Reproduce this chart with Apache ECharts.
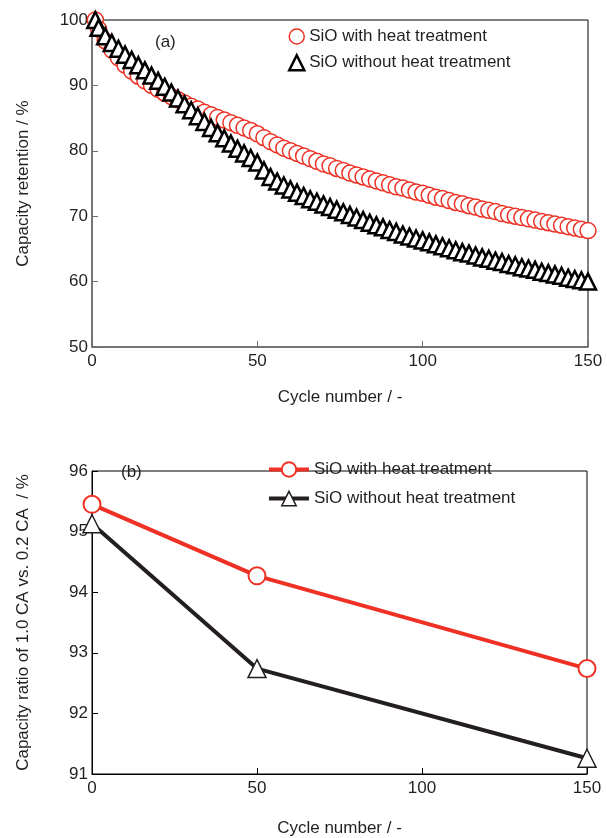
<!DOCTYPE html>
<html>
<head>
<meta charset="utf-8">
<script src="https://cdn.jsdelivr.net/npm/echarts@6/dist/echarts.min.js"></script>
<style>
  html, body { margin: 0; padding: 0; background: #fff; }
  #main { width: 607px; height: 838px; }
</style>
</head>
<body>
<div id="main"></div>
<script>
// (a) cycle data
var cycles = [1, 2, 4, 6, 8, 10, 12, 14, 16, 18, 20, 22, 24, 26, 28, 30, 32, 34, 36, 38, 40,
  42, 44, 46, 48, 50, 52, 54, 56, 58, 60, 62, 64, 66, 68, 70, 72, 74, 76, 78, 80,
  82, 84, 86, 88, 90, 92, 94, 96, 98, 100, 102, 104, 106, 108, 110, 112, 114, 116, 118, 120,
  122, 124, 126, 128, 130, 132, 134, 136, 138, 140, 142, 144, 146, 148, 150];
var withHeat = [100.0, 98.6, 96.8, 95.4, 94.2, 93.1, 92.2, 91.4, 90.7, 90.0, 89.4,
  88.8, 88.3, 87.8, 87.3, 86.8, 86.4, 85.9, 85.5, 85.1, 84.7,
  84.3, 83.9, 83.5, 83.1, 82.6, 82.0, 81.4, 80.9, 80.4, 80.0,
  79.6, 79.2, 78.8, 78.4, 78.0, 77.7, 77.3, 77.0, 76.6, 76.3,
  76.0, 75.7, 75.4, 75.1, 74.8, 74.5, 74.3, 74.0, 73.7, 73.5,
  73.2, 72.9, 72.7, 72.4, 72.1, 71.9, 71.6, 71.4, 71.1, 70.9,
  70.7, 70.4, 70.2, 70.0, 69.8, 69.6, 69.4, 69.2, 69.0, 68.8,
  68.6, 68.4, 68.2, 68.0, 67.8];
var withoutHeat = [100.0, 98.8, 97.5, 96.5, 95.6, 94.7, 93.9, 93.1, 92.3, 91.5, 90.7,
  89.8, 88.9, 88.0, 87.1, 86.2, 85.3, 84.4, 83.5, 82.7, 81.9,
  81.1, 80.3, 79.6, 78.9, 78.2, 77.0, 76.0, 75.3, 74.7, 74.1,
  73.6, 73.1, 72.6, 72.2, 71.8, 71.4, 71.0, 70.6, 70.2, 69.8,
  69.4, 69.0, 68.6, 68.3, 67.9, 67.6, 67.2, 66.9, 66.6, 66.3,
  66.0, 65.7, 65.4, 65.1, 64.8, 64.5, 64.3, 64.0, 63.7, 63.5,
  63.2, 63.0, 62.7, 62.5, 62.2, 62.0, 61.8, 61.5, 61.3, 61.1,
  60.9, 60.6, 60.4, 60.2, 60.0];

// (b) rate data
var rateCycles = [0, 50, 150];
var rateWithHeat = [95.45, 94.27, 92.74];
var rateWithoutHeat = [95.13, 92.74, 91.26];

var seriesNames = ['SiO with heat treatment', 'SiO without heat treatment'];

var RED = '#ee3124';
var TXT = '#231f20';
var FONT = 'Liberation Sans, Arial, sans-serif';

function pairs(xs, ys) {
  return xs.map(function (x, i) { return [x, ys[i]]; });
}

var myChart = echarts.init(document.getElementById('main'));

function xAx(idx, gap, lineColor, lineWidth) {
  return {
    gridIndex: idx, type: 'value', min: 0, max: 150, interval: 50,
    name: 'Cycle number / -', nameLocation: 'middle', nameGap: gap,
    nameTextStyle: { fontSize: 17, color: TXT, fontFamily: FONT },
    axisLine: { lineStyle: { color: lineColor, width: lineWidth } },
    axisTick: { inside: true, length: 6, lineStyle: { color: lineColor } },
    axisLabel: { fontSize: 17, color: TXT, fontFamily: FONT, margin: 6 },
    splitLine: { show: false }
  };
}

var option = {
  animation: false,
  textStyle: { fontFamily: FONT },
  grid: [
    { left: 92, right: 19, top: 20, height: 327, show: true, borderColor: '#000', borderWidth: 1 },
    { left: 92, right: 20, top: 471, height: 304, show: true, borderColor: '#000', borderWidth: 1 }
  ],
  xAxis: [
    xAx(0, 42, '#707070', 1.5),
    xAx(1, 46, '#000', 1)
  ],
  yAxis: [
    {
      gridIndex: 0, type: 'value', min: 50, max: 100, interval: 10,
      name: 'Capacity retention / %', nameLocation: 'middle', nameGap: 60,
      nameTextStyle: { fontSize: 17, color: TXT, fontFamily: FONT },
      axisLine: { show: true, lineStyle: { color: '#707070', width: 1.5 } },
      axisTick: { show: true, inside: true, length: 6, lineStyle: { color: '#707070' } },
      axisLabel: { fontSize: 17, color: TXT, fontFamily: FONT, margin: 4 },
      splitLine: { show: false }
    },
    {
      gridIndex: 1, type: 'value', min: 91, max: 96, interval: 1,
      name: 'Capacity ratio of 1.0 CA vs. 0.2 CA  / %', nameLocation: 'middle', nameGap: 60,
      nameTextStyle: { fontSize: 17, color: TXT, fontFamily: FONT },
      axisLine: { show: true, lineStyle: { color: '#000', width: 1 } },
      axisTick: { show: true, inside: true, length: 6, lineStyle: { color: '#000' } },
      axisLabel: { fontSize: 17, color: TXT, fontFamily: FONT, margin: 4 },
      splitLine: { show: false }
    }
  ],
  legend: [
    {
      left: 283, top: 23, orient: 'vertical', itemGap: 9,
      itemWidth: 15, itemHeight: 15,
      textStyle: { fontSize: 17, color: TXT, fontFamily: FONT, padding: [0, 0, 0, 0] },
      data: [
        { name: 'a1', icon: 'circle', itemStyle: { color: '#fff', borderColor: RED, borderWidth: 1.5 } },
        { name: 'a2', icon: 'triangle', itemStyle: { color: '#fff', borderColor: '#000', borderWidth: 2.5 } }
      ],
      formatter: function (n) { return n === 'a1' ? seriesNames[0] : seriesNames[1]; }
    },
    {
      left: 262, top: 456, orient: 'vertical', itemGap: 12,
      itemWidth: 40, itemHeight: 18,
      textStyle: { fontSize: 17, color: TXT, fontFamily: FONT, padding: [0, 0, 0, 0] },
      data: [
        { name: 'b1', lineStyle: { color: RED, width: 4 }, itemStyle: { color: '#fff', borderColor: RED, borderWidth: 2 } },
        { name: 'b2', lineStyle: { color: TXT, width: 4 }, itemStyle: { color: '#fff', borderColor: TXT, borderWidth: 1.5 } }
      ],
      formatter: function (n) { return n === 'b1' ? seriesNames[0] : seriesNames[1]; }
    }
  ],
  graphic: [
    { type: 'text', left: 155, top: 34, style: { text: '(a)', fontSize: 17, fill: TXT, fontFamily: FONT } },
    { type: 'text', left: 121, top: 464, style: { text: '(b)', fontSize: 17, fill: TXT, fontFamily: FONT } }
  ],
  series: [
    {
      name: 'a1', type: 'scatter', xAxisIndex: 0, yAxisIndex: 0,
      symbol: 'circle', symbolSize: 16,
      itemStyle: { color: '#fff', borderColor: RED, borderWidth: 1.5, opacity: 1 },
      data: pairs(cycles, withHeat)
    },
    {
      name: 'a2', type: 'scatter', xAxisIndex: 0, yAxisIndex: 0,
      symbol: 'triangle', symbolSize: 16,
      itemStyle: { color: '#fff', borderColor: '#000', borderWidth: 2.5, opacity: 1 },
      data: pairs(cycles, withoutHeat)
    },
    {
      name: 'b1', type: 'line', xAxisIndex: 1, yAxisIndex: 1,
      symbol: 'circle', symbolSize: 17,
      lineStyle: { color: RED, width: 4 },
      itemStyle: { color: '#fff', borderColor: RED, borderWidth: 2 },
      data: pairs(rateCycles, rateWithHeat)
    },
    {
      name: 'b2', type: 'line', xAxisIndex: 1, yAxisIndex: 1,
      symbol: 'triangle', symbolSize: 18,
      lineStyle: { color: TXT, width: 4 },
      itemStyle: { color: '#fff', borderColor: TXT, borderWidth: 1.5 },
      data: pairs(rateCycles, rateWithoutHeat)
    }
  ]
};

myChart.setOption(option);
</script>
</body>
</html>
